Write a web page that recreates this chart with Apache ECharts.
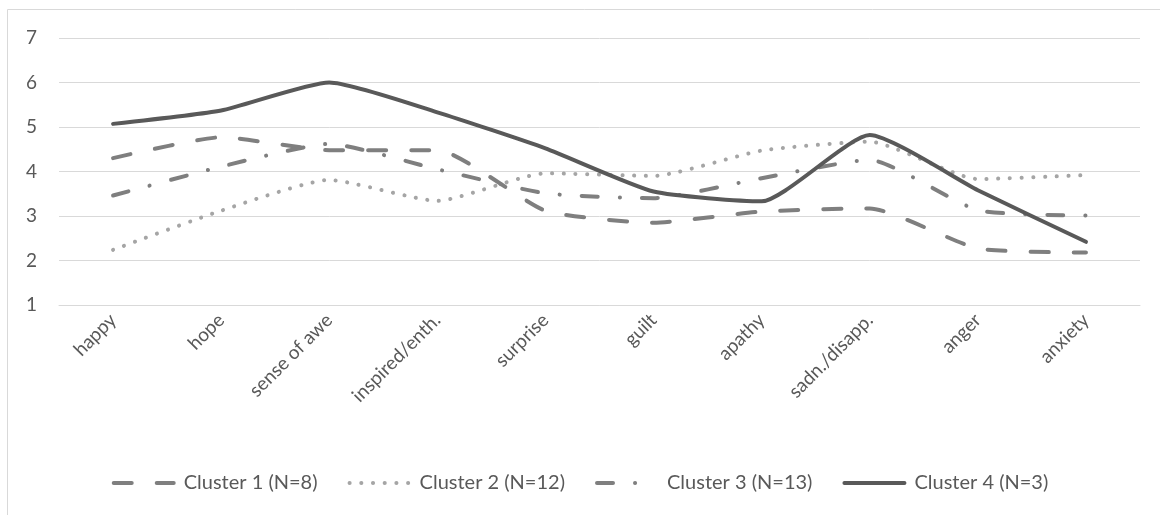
<!DOCTYPE html>
<html>
<head>
    <meta charset="utf-8">
    <title>Clusters</title>
    <script src="https://cdn.jsdelivr.net/npm/echarts@6/dist/echarts.min.js"></script>
    <style>
        html, body { margin: 0; padding: 0; background: #fff; }
        #main { width: 1160px; height: 515px; }
    </style>
</head>
<body>
    <div id="main"></div>
    <script>
        // categories and cluster means
        var emotions = ['happy', 'hope', 'sense of awe', 'inspired/enth.', 'surprise', 'guilt', 'apathy', 'sadn./disapp.', 'anger', 'anxiety'];
        var cluster1 = [4.30, 4.77, 4.48, 4.48, 3.12, 2.85, 3.10, 3.17, 2.27, 2.18];
        var cluster2 = [2.24, 3.12, 3.81, 3.34, 3.96, 3.90, 4.47, 4.67, 3.83, 3.92];
        var cluster3 = [3.46, 4.11, 4.62, 4.05, 3.51, 3.40, 3.85, 4.26, 3.13, 3.01];
        var cluster4 = [5.07, 5.37, 6.00, 5.33, 4.52, 3.55, 3.33, 4.82, 3.58, 2.42];
        var names = ['Cluster 1 (N=8)', 'Cluster 2 (N=12)', 'Cluster 3 (N=13)', 'Cluster 4 (N=3)'];

        var chart = echarts.init(document.getElementById('main'));
        var font = 'Lato, "Open Sans", sans-serif';

        function line(name, data, color, dash, width) {
            return {
                name: name,
                type: 'line',
                data: data,
                smooth: 0.18,
                symbol: 'none',
                lineStyle: { color: color, width: width, type: dash, cap: 'round', join: 'round' },
                itemStyle: { color: color }
            };
        }

        chart.setOption({
            animation: false,
            textStyle: { fontFamily: font },
            graphic: [{
                type: 'rect',
                shape: { x: 7.5, y: 9.5, width: 1200, height: 600 },
                style: { fill: 'none', stroke: '#d9d9d9', lineWidth: 1 }
            }],
            grid: { left: 59, right: 20, top: 38, bottom: 210 },
            legend: {
                data: names,
                top: 468,
                left: 'center',
                itemWidth: 60,
                itemHeight: 14,
                itemGap: 30,
                lineStyle: { width: 4 },
                itemStyle: { color: 'rgba(0,0,0,0)', borderWidth: 0 },
                textStyle: { fontSize: 20, color: '#595959', fontFamily: font, padding: [0, 0, 0, 5] }
            },
            xAxis: {
                type: 'category',
                data: emotions,
                boundaryGap: true,
                axisLine: { lineStyle: { color: '#d9d9d9', width: 1 } },
                axisTick: { show: false },
                axisLabel: { rotate: 45, margin: 12, fontSize: 19, color: '#595959', interval: 0 }
            },
            yAxis: {
                type: 'value',
                min: 1,
                max: 7,
                interval: 1,
                axisLine: { show: false },
                axisTick: { show: false },
                axisLabel: { fontSize: 19, color: '#595959', margin: 22 },
                splitLine: { lineStyle: { color: '#d9d9d9', width: 1 } }
            },
            series: [
                line(names[0], cluster1, '#7f7f7f', [18, 25], 4),
                line(names[1], cluster2, '#a5a5a5', [0.1, 11.6], 4),
                line(names[2], cluster3, '#7f7f7f', [16, 22, 0.1, 22], 4),
                line(names[3], cluster4, '#595959', 'solid', 4)
            ]
        });
    </script>
</body>
</html>
